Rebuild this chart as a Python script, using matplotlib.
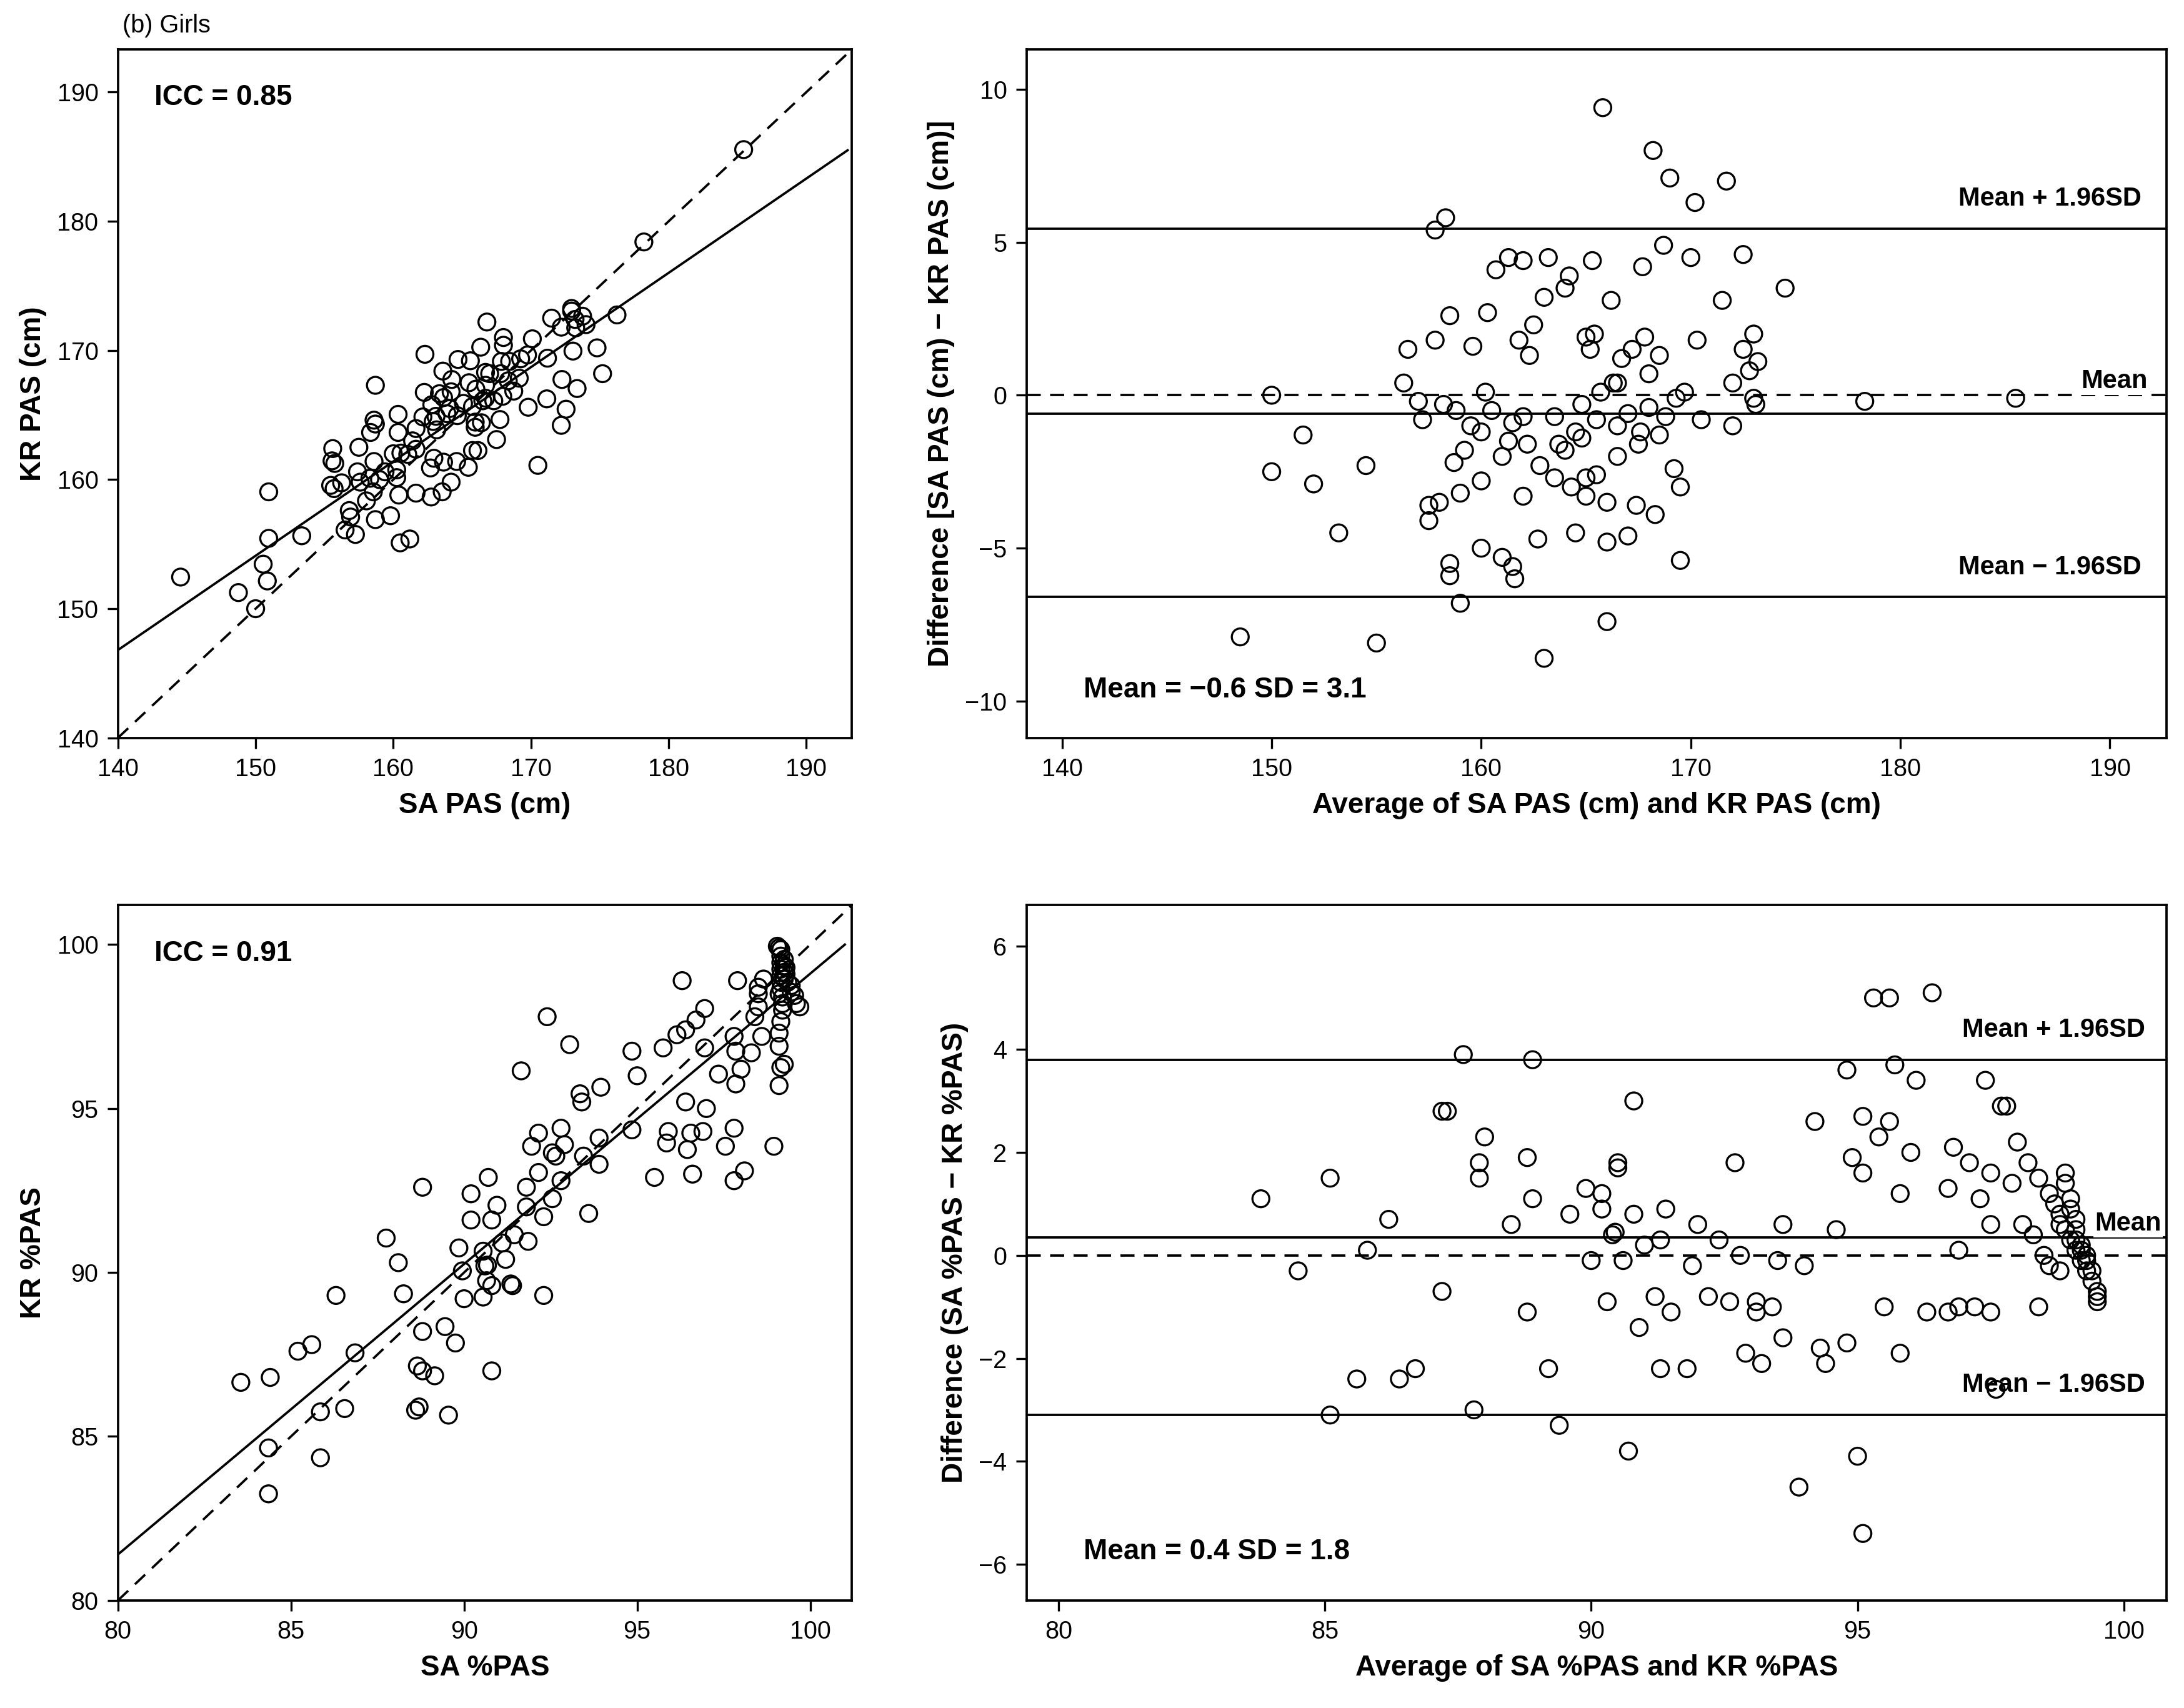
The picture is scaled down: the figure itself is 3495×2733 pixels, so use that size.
import numpy as np
import matplotlib.pyplot as plt

plt.rcParams['font.family'] = ['Liberation Sans', 'DejaVu Sans']

# (average, difference) for PAS in cm
ba1_avg = [150.0, 150.0, 151.5, 152, 153.2, 154.5, 148.5, 155, 156.3, 156.5, 157, 157.2, 157.5, 157.5, 157.8, 157.8,
           158, 158.2, 158.3, 158.5, 158.5, 158.5, 158.7, 158.8, 159, 159, 159.2, 159.5, 159.6, 160, 160, 160.2, 160.3,
           160.5, 160.7, 161, 161, 161.3, 161.3, 161.5, 161.6, 161.8, 162, 162, 162.2, 162.3, 162.5, 162.7, 162.8, 163,
           163, 163.2, 163.5, 163.7, 164, 164, 164.2, 164.3, 164.5, 164.5, 164.8, 165, 165, 165.2, 165.3, 165.4, 165.5,
           165.7, 165.8, 166, 166, 166, 166.2, 166.3, 166.5, 166.5, 166.7, 167, 167, 167.2, 167.4, 167.5, 167.7, 167.8,
           168, 168, 168.2, 168.3, 168.5, 168.7, 168.8, 169, 169.2, 169.3, 169.5, 169.5, 169.7, 170, 170.2, 170.3, 170.5,
           171.5, 171.7, 172, 172, 172.5, 172.5, 172.8, 173, 173, 173.1, 173.2, 174.5, 178.3, 185.5, 162, 163.5, 165,
           166.5, 168.5, 160, 161.5, 165.5, 167.6, 164.8]
ba1_diff = [0.0, -2.5, -1.3, -2.9, -4.5, -2.3, -7.9, -8.1, 0.4, 1.5, -0.2, -0.8, -3.6, -4.1, 1.8, 5.4,
            -3.5, -0.3, 5.8, 2.6, -5.5, -5.9, -2.2, -0.5, -6.8, -3.2, -1.8, -1.0, 1.6, -5.0, -2.8, 0.1, 2.7,
            -0.5, 4.1, -2.0, -5.3, 4.5, -1.5, -5.6, -6.0, 1.8, -0.7, -3.3, -1.6, 1.3, 2.3, -4.7, -2.3, 3.2,
            -8.6, 4.5, -0.7, -1.6, -1.8, 3.5, 3.9, -3.0, -4.5, -1.2, -0.3, -3.3, -2.7, 1.5, 4.4, 2.0, -0.8,
            0.1, 9.4, -7.4, -3.5, -4.8, 3.1, 0.4, -1.0, -2.0, 1.2, -0.6, -4.6, 1.5, -3.6, -1.6, 4.2, 1.9,
            0.7, -0.4, 8.0, -3.9, -1.3, 4.9, -0.7, 7.1, -2.4, -0.1, -5.4, -3.0, 0.1, 4.5, 6.3, 1.8, -0.8,
            3.1, 7.0, 0.4, -1.0, 4.6, 1.5, 0.8, 2.0, -0.1, -0.3, 1.1, 3.5, -0.2, -0.1, 4.4, -2.7, 1.9,
            0.4, 1.3, -1.2, -0.9, -2.6, -1.2, -1.4]

# (average, difference) for %PAS
ba2_avg = [83.8, 84.5, 85.1, 85.1, 85.6, 85.8, 86.2, 86.4, 86.7, 87.2, 87.3, 87.2, 87.6, 87.8, 87.9, 87.9, 88.0, 88.5,
           88.8, 88.8, 88.9, 88.9, 89.2, 89.4, 89.6, 89.9, 90.0, 90.2, 90.2, 90.3, 90.4, 90.45, 90.5, 90.5, 90.6, 90.7,
           90.8, 90.8, 90.9, 91.0, 91.2, 91.3, 91.3, 91.5, 91.4, 91.8, 91.9, 92.0, 92.2, 92.4, 92.6, 92.7, 92.8, 92.9,
           93.1, 93.1, 93.2, 93.4, 93.5, 93.6, 93.6, 93.9, 94.0, 94.2, 94.3, 94.4, 94.6, 94.8, 94.8, 94.9, 95.0, 95.1,
           95.1, 95.1, 95.3, 95.4, 95.5, 95.6, 95.6, 95.7, 95.8, 95.8, 96.0, 96.1, 96.4, 96.7, 96.7, 96.8, 96.9, 96.9,
           97.1, 97.2, 97.3, 97.4, 97.5, 97.5, 97.7, 97.8, 97.9, 98.0, 98.1, 98.3, 98.4, 98.5, 98.6, 98.8, 98.8, 98.9,
           98.9, 99.0, 99.0, 99.1, 99.1, 99.1, 99.2, 99.2, 99.3, 99.3, 99.3, 99.4, 99.5, 99.5, 98.2, 98.4, 98.6, 98.7,
           98.8, 98.9, 99.0, 99.1, 99.2, 99.4, 99.5, 97.5, 97.6, 96.3]
ba2_diff = [1.1, -0.3, 1.5, -3.1, -2.4, 0.1, 0.7, -2.4, -2.2, 2.8, 2.8, -0.7, 3.9, -3.0, 1.5, 1.8, 2.3, 0.6,
            1.9, -1.1, 3.8, 1.1, -2.2, -3.3, 0.8, 1.3, -0.1, 1.2, 0.9, -0.9, 0.4, 0.45, 1.7, 1.8, -0.1, -3.8,
            3.0, 0.8, -1.4, 0.2, -0.8, 0.3, -2.2, -1.1, 0.9, -2.2, -0.2, 0.6, -0.8, 0.3, -0.9, 1.8, 0.0, -1.9,
            -1.1, -0.9, -2.1, -1.0, -0.1, -1.6, 0.6, -4.5, -0.2, 2.6, -1.8, -2.1, 0.5, -1.7, 3.6, 1.9, -3.9, -5.4,
            2.7, 1.6, 5.0, 2.3, -1.0, 5.0, 2.6, 3.7, 1.2, -1.9, 2.0, 3.4, 5.1, 1.3, -1.1, 2.1, 0.1, -1.0,
            1.8, -1.0, 1.1, 3.4, 1.6, 0.6, 2.9, 2.9, 1.4, 2.2, 0.6, 0.4, -1.0, 0.0, -0.2, 0.6, -0.3, 1.6,
            1.4, 1.1, 0.9, 0.7, 0.5, 0.3, 0.2, 0.1, 0.0, -0.1, -0.3, -0.5, -0.7, -0.9, 1.8, 1.5, 1.2, 1.0,
            0.8, 0.5, 0.3, 0.1, -0.1, -0.3, -0.8, -1.1, -2.6, -1.1]

# regression line end points (x, y) for the scatter panels
fit1_x, fit1_y = [140, 193], [146.8, 185.5]
fit2_x, fit2_y = [80, 101], [81.4, 100.0]

# Bland-Altman statistics
ba1_mean, ba1_hi, ba1_lo = -0.6, 5.45, -6.6
ba2_mean, ba2_hi, ba2_lo = 0.35, 3.8, -3.1


def split(avg, diff):
    avg, diff = np.array(avg), np.array(diff)
    return avg + diff / 2, avg - diff / 2


fig = plt.figure(figsize=(11.65, 9.11), dpi=300)
ax1 = fig.add_axes([0.054, 0.568, 0.336, 0.403])
ax2 = fig.add_axes([0.470, 0.568, 0.522, 0.403])
ax3 = fig.add_axes([0.054, 0.063, 0.336, 0.407])
ax4 = fig.add_axes([0.470, 0.063, 0.522, 0.407])

mk = dict(marker='o', s=42, facecolors='none', edgecolors='black', linewidths=0.8)
fs_tick, fs_lab = 9.5, 11

# scatter panels
for ax, (avg, diff), fx, fy, lim, ticks, icc, xl, yl in [
        (ax1, (ba1_avg, ba1_diff), fit1_x, fit1_y, (140, 193.3), np.arange(140, 191, 10), 'ICC = 0.85',
         'SA PAS (cm)', 'KR PAS (cm)'),
        (ax3, (ba2_avg, ba2_diff), fit2_x, fit2_y, (80, 101.2), np.arange(80, 101, 5), 'ICC = 0.91',
         'SA %PAS', 'KR %PAS')]:
    sx, sy = split(avg, diff)
    ax.scatter(sx, sy, **mk)
    ax.plot(lim, lim, 'k--', lw=0.9, dashes=(6, 4))
    ax.plot(fx, fy, 'k-', lw=0.9)
    ax.set_xlim(lim)
    ax.set_ylim(lim)
    ax.set_xticks(ticks)
    ax.set_yticks(ticks)
    ax.text(0.05, 0.93, icc, transform=ax.transAxes, fontsize=fs_lab, fontweight='bold', va='center')
    ax.set_xlabel(xl, fontsize=fs_lab, fontweight='bold')
    ax.set_ylabel(yl, fontsize=fs_lab, fontweight='bold')

# Bland-Altman panels
for ax, avg, diff, m, hi, lo, xlim, ylim, xt, yt, txt, xl, yl, lx in [
        (ax2, ba1_avg, ba1_diff, ba1_mean, ba1_hi, ba1_lo, (138.3, 192.7), (-11.2, 11.3),
         np.arange(140, 191, 10), np.arange(-10, 11, 5), 'Mean = \u22120.6 SD = 3.1',
         'Average of SA PAS (cm) and KR PAS (cm)', 'Difference [SA PAS (cm) \u2212 KR PAS (cm)]', 191.5),
        (ax4, ba2_avg, ba2_diff, ba2_mean, ba2_hi, ba2_lo, (79.4, 100.8), (-6.7, 6.8),
         np.arange(80, 101, 5), np.arange(-6, 7, 2), 'Mean = 0.4 SD = 1.8',
         'Average of SA %PAS and KR %PAS', 'Difference (SA %PAS \u2212 KR %PAS)', 100.4)]:
    ax.scatter(avg, diff, **mk)
    for v in (m, hi, lo):
        ax.axhline(v, color='black', lw=0.9)
    ax.axhline(0, color='black', lw=0.9, ls='--', dashes=(6, 4))
    ax.set_xlim(xlim)
    ax.set_ylim(ylim)
    ax.set_xticks(xt)
    ax.set_yticks(yt)
    yr = ylim[1] - ylim[0]
    ax.text(lx, hi + 0.025 * yr, 'Mean + 1.96SD', ha='right', va='bottom', fontsize=fs_tick + 0.5, fontweight='bold')
    ax.text(lx, lo + 0.025 * yr, 'Mean \u2212 1.96SD', ha='right', va='bottom', fontsize=fs_tick + 0.5, fontweight='bold')
    ax.text(lx + 0.3, max(m, 0) + 0.02 * yr, 'Mean', ha='right', va='center', fontsize=fs_tick + 0.5,
            fontweight='bold', bbox=dict(facecolor='white', edgecolor='none', pad=0.5))
    ax.text(0.05, 0.07, txt, transform=ax.transAxes, fontsize=fs_lab, fontweight='bold', va='center')
    ax.set_xlabel(xl, fontsize=fs_lab, fontweight='bold')
    ax.set_ylabel(yl, fontsize=fs_lab, fontweight='bold')

for ax in (ax1, ax2, ax3, ax4):
    ax.tick_params(labelsize=fs_tick, direction='out', length=4, width=0.8)
    for s in ax.spines.values():
        s.set_linewidth(0.9)

fig.text(0.056, 0.992, '(b) Girls', fontsize=fs_tick, va='top')

fig.savefig('out.png', dpi=300)
